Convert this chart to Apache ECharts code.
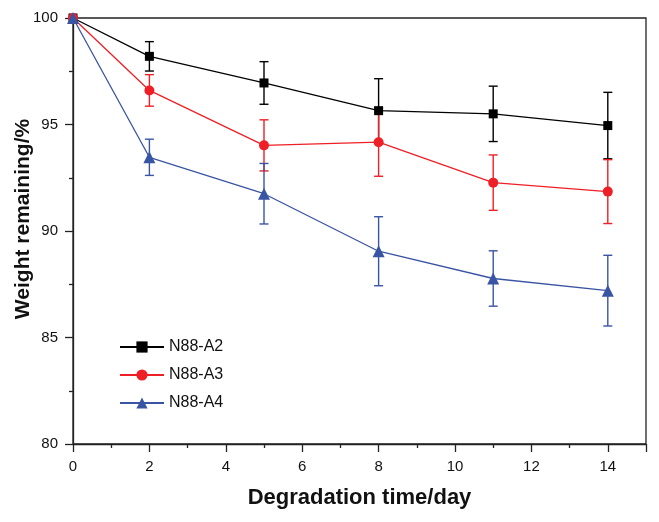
<!DOCTYPE html>
<html>
<head>
<meta charset="utf-8">
<script src="https://cdn.jsdelivr.net/npm/echarts@6/dist/echarts.min.js"></script>
<style>
html,body{margin:0;padding:0;background:#fff;}
#chart{width:659px;height:522px;}
</style>
</head>
<body>
<div id="chart"></div>
<script>
// Data
const days = [0, 2, 5, 8, 11, 14];
const seriesNames = ['N88-A2', 'N88-A3', 'N88-A4'];
const a2Values = [100, 98.2, 96.95, 95.65, 95.5, 94.95];
const a2Errors = [0, 0.69, 1.0, 1.5, 1.3, 1.56];
const a3Values = [100, 96.6, 94.02, 94.17, 92.27, 91.85];
const a3Errors = [0, 0.74, 1.2, 1.6, 1.3, 1.5];
const a4Values = [100, 93.46, 91.75, 89.05, 87.77, 87.2];
const a4Errors = [0, 0.85, 1.42, 1.62, 1.3, 1.66];
const xTicks = [0, 2, 4, 6, 8, 10, 12, 14];
const yTicks = [80, 85, 90, 95, 100];

const colors = ['#000000', '#ee1f26', '#3a54a4'];
const symbols = ['rect', 'circle', 'triangle'];
const symbolSizes = [9, 10, 12];
const valuesList = [a2Values, a3Values, a4Values];
const errorsList = [a2Errors, a3Errors, a4Errors];

const FONT = '"Liberation Sans", Arial, sans-serif';

const chart = echarts.init(document.getElementById('chart'), null, {renderer: 'canvas'});

function pairs(vals) { return days.map((d, i) => [d, vals[i]]); }
function errData(vals, errs) { return days.map((d, i) => [d, vals[i] - errs[i], vals[i] + errs[i]]); }

const series = [];
seriesNames.forEach((name, k) => {
  series.push({
    name: name + '-err',
    type: 'custom',
    data: errData(valuesList[k], errorsList[k]),
    z: 2,
    silent: true,
    renderItem: function (params, api) {
      const x = api.value(0), lo = api.value(1), hi = api.value(2);
      if (hi - lo <= 0) return null;
      const pLo = api.coord([x, lo]);
      const pHi = api.coord([x, hi]);
      const cw = 4.5;
      const style = {stroke: colors[k], lineWidth: 1.4, fill: null};
      return {
        type: 'group',
        children: [
          {type: 'line', shape: {x1: pLo[0], y1: pLo[1], x2: pHi[0], y2: pHi[1]}, style: style},
          {type: 'line', shape: {x1: pLo[0] - cw, y1: pLo[1], x2: pLo[0] + cw, y2: pLo[1]}, style: style},
          {type: 'line', shape: {x1: pHi[0] - cw, y1: pHi[1], x2: pHi[0] + cw, y2: pHi[1]}, style: style}
        ]
      };
    }
  });
});
seriesNames.forEach((name, k) => {
  series.push({
    name: name,
    type: 'line',
    data: pairs(valuesList[k]),
    z: 3,
    symbol: symbols[k],
    symbolSize: symbolSizes[k],
    showAllSymbol: true,
    lineStyle: {color: colors[k], width: 1.3},
    itemStyle: {color: colors[k]},
    emphasis: {disabled: true},
    animation: false
  });
});

const option = {
  animation: false,
  backgroundColor: '#fff',
  grid: {
    left: 73, right: 13, top: 18, bottom: 78,
    containLabel: false,
    outerBoundsMode: 'none',
    show: true, borderColor: '#222', borderWidth: 1.3, backgroundColor: 'transparent'
  },
  legend: {
    data: seriesNames,
    orient: 'vertical',
    left: 114,
    top: 334,
    itemWidth: 44,
    itemHeight: 14,
    itemGap: 12,
    textStyle: {fontFamily: FONT, fontSize: 16, color: '#111'},
    selectedMode: false
  },
  xAxis: {
    type: 'value',
    min: 0, max: 15, interval: 2,
    name: 'Degradation time/day',
    nameLocation: 'middle',
    nameGap: 43,
    nameMoveOverlap: false,
    nameTextStyle: {fontFamily: FONT, fontSize: 22, fontWeight: 'bold', color: '#111'},
    axisLine: {show: true, onZero: false, lineStyle: {color: '#222', width: 1.3}},
    axisTick: {show: true, inside: false, length: 8, lineStyle: {color: '#222', width: 1.3}},
    minorTick: {show: true, splitNumber: 2, length: 4, lineStyle: {color: '#222', width: 1.3}},
    splitLine: {show: false},
    axisLabel: {
      fontFamily: FONT, fontSize: 15, color: '#111', margin: 15,
      showMaxLabel: false,
      formatter: function (v) { return xTicks.indexOf(v) >= 0 ? String(v) : ''; }
    }
  },
  yAxis: {
    type: 'value',
    min: 80, max: 100, interval: 5,
    name: 'Weight remaining/%',
    nameLocation: 'middle',
    nameGap: 39,
    nameMoveOverlap: false,
    nameTextStyle: {fontFamily: FONT, fontSize: 21, fontWeight: 'bold', color: '#111', padding: [0, 0, 0, 24]},
    axisLine: {show: true, onZero: false, lineStyle: {color: '#222', width: 1.3}},
    axisTick: {show: true, inside: false, length: 8, lineStyle: {color: '#222', width: 1.3}},
    minorTick: {show: true, splitNumber: 2, length: 4, lineStyle: {color: '#222', width: 1.3}},
    splitLine: {show: false},
    axisLabel: {
      fontFamily: FONT, fontSize: 15, color: '#111', margin: 15,
      formatter: function (v) { return yTicks.indexOf(v) >= 0 ? String(v) : ''; }
    }
  },
  series: series
};
chart.setOption(option);
</script>
</body>
</html>
